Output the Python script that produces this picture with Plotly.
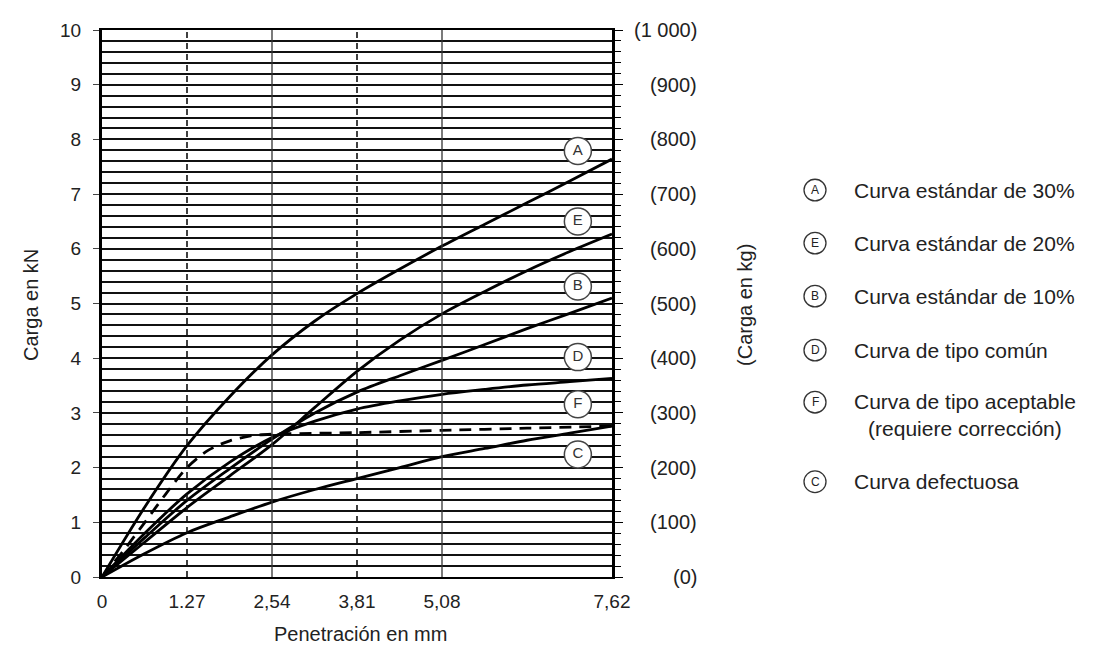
import plotly.graph_objects as go

# ---------------- data ----------------
pen_mm = [0, 0.64, 1.27, 1.91, 2.54, 3.18, 3.81, 4.45, 5.08, 5.72, 6.35, 6.99, 7.62]
curve_A = [0, 1.28, 2.40, 3.30, 4.06, 4.68, 5.18, 5.63, 6.05, 6.45, 6.84, 7.24, 7.64]
curve_E = [0, 0.64, 1.27, 1.85, 2.42, 3.10, 3.76, 4.33, 4.81, 5.22, 5.60, 5.95, 6.27]
curve_B = [0, 0.72, 1.40, 1.98, 2.52, 3.00, 3.38, 3.68, 3.96, 4.25, 4.54, 4.82, 5.10]
curve_D = [0, 0.80, 1.52, 2.10, 2.55, 2.85, 3.07, 3.22, 3.34, 3.43, 3.51, 3.57, 3.63]
curve_C = [0, 0.43, 0.81, 1.10, 1.37, 1.60, 1.80, 2.00, 2.20, 2.35, 2.50, 2.63, 2.76]
pen_F = [0, 0.32, 0.64, 0.96, 1.27, 1.59, 1.91, 2.22, 2.54, 3.81, 5.08, 6.35, 7.62]
curve_F = [0, 0.48, 1.00, 1.53, 2.00, 2.32, 2.49, 2.58, 2.61, 2.64, 2.68, 2.72, 2.76]

label_letters = ["A", "E", "B", "D", "F", "C"]
label_x = [7.11, 7.11, 7.11, 7.11, 7.11, 7.11]
label_y = [7.79, 6.50, 5.31, 4.02, 3.16, 2.24]

legend_letters = ["A", "E", "B", "D", "F", "C"]
legend_texts = ["Curva estándar de 30%", "Curva estándar de 20%", "Curva estándar de 10%",
                "Curva de tipo común", "Curva de tipo aceptable<br>(requiere corrección)",
                "Curva defectuosa"]

x_tickvals = [0, 1.27, 2.54, 3.81, 5.08, 7.62]
x_ticktext = ["0", "1.27", "2,54", "3,81", "5,08", "7,62"]
dashed_vlines = [1.27, 3.81]
solid_vlines = [2.54, 5.08]
kn_ticks = list(range(0, 11))
kg_tickvals = list(range(0, 1001, 100))
kg_ticktext = ["(0)", "(100)", "(200)", "(300)", "(400)", "(500)", "(600)", "(700)",
               "(800)", "(900)", "(1 000)"]

# ---------------- layout geometry (page px; figure sits 8px in from page corner) ----------------
OFF = 8
W, H = 1100, 640
L, R, T, B = 102 - OFF, 612 - OFF, 20 - OFF, 577 - OFF
PW, PH = R - L, B - T
FONT = "Liberation Sans, Arial, sans-serif"
TXT = "#222"

def px_x(px):
    return (px - OFF - L) / PW

def px_y(py):
    return (B - (py - OFF)) / PH

fig = go.Figure()

# vertical guide lines
for xv in solid_vlines:
    fig.add_shape(type="line", xref="x", yref="y", x0=xv, x1=xv, y0=0, y1=10,
                  line=dict(color="#333", width=1.3))
for xv in dashed_vlines:
    fig.add_shape(type="line", xref="x", yref="y", x0=xv, x1=xv, y0=0, y1=10,
                  line=dict(color="#111", width=1.6, dash="6px,5px"))

lw = 2.8
for yv in [curve_A, curve_E, curve_B, curve_D, curve_C]:
    fig.add_trace(go.Scatter(x=pen_mm, y=yv, mode="lines",
                             line=dict(color="#000", width=lw, shape="spline", smoothing=0.9),
                             showlegend=False, hoverinfo="skip"))
fig.add_trace(go.Scatter(x=pen_F, y=curve_F, mode="lines",
                         line=dict(color="#000", width=lw, dash="12px,8px", shape="spline", smoothing=0.8),
                         showlegend=False, hoverinfo="skip"))

# circled curve labels
fig.add_trace(go.Scatter(x=label_x, y=label_y, mode="markers+text", text=label_letters,
                         textposition="middle center",
                         textfont=dict(family=FONT, size=15, color="#333"),
                         marker=dict(size=27, color="white", line=dict(color="#444", width=1.5)),
                         showlegend=False, hoverinfo="skip", cliponaxis=False))

# dummy trace for secondary axis
fig.add_trace(go.Scatter(x=[0], y=[0], yaxis="y2", mode="markers", marker=dict(opacity=0),
                         showlegend=False, hoverinfo="skip"))

annotations = []
# right axis labels (right aligned)
for v, t in zip(kg_tickvals, kg_ticktext):
    annotations.append(dict(x=px_x(699), y=v, xref="paper", yref="y2", text=t, showarrow=False,
                            xanchor="right", yanchor="middle",
                            font=dict(family=FONT, size=20, color=TXT)))
# axis titles
annotations.append(dict(x=px_x(31), y=px_y(300), xref="paper", yref="paper", text="Carga en kN",
                        textangle=-90, showarrow=False, xanchor="center", yanchor="middle",
                        font=dict(family=FONT, size=20, color=TXT)))
annotations.append(dict(x=px_x(745), y=px_y(300), xref="paper", yref="paper", text="(Carga en kg)",
                        textangle=-90, showarrow=False, xanchor="center", yanchor="middle",
                        font=dict(family=FONT, size=20, color=TXT)))
annotations.append(dict(x=px_x(360), y=px_y(635), xref="paper", yref="paper", text="Penetración en mm",
                        showarrow=False, xanchor="center", yanchor="middle",
                        font=dict(family=FONT, size=20, color=TXT)))

# legend
legend_rows = [183, 237, 291, 346, 399, 480]
for letter, txt, yc in zip(legend_letters, legend_texts, legend_rows):
    cx, r = 815, 11
    fig.add_shape(type="circle", xref="paper", yref="paper",
                  x0=px_x(cx - r), x1=px_x(cx + r), y0=px_y(yc + r), y1=px_y(yc - r),
                  line=dict(color="#333", width=1.3), fillcolor="white")
    annotations.append(dict(x=px_x(cx), y=px_y(yc), xref="paper", yref="paper", text=letter,
                            showarrow=False, xanchor="center", yanchor="middle",
                            font=dict(family=FONT, size=12, color="#222")))
    if "<br>" in txt:
        annotations.append(dict(x=px_x(852), y=px_y(yc - 14), xref="paper", yref="paper", text=txt,
                                showarrow=False, xanchor="left", yanchor="top", align="center",
                                font=dict(family=FONT, size=21, color=TXT)))
    else:
        annotations.append(dict(x=px_x(852), y=px_y(yc), xref="paper", yref="paper", text=txt,
                                showarrow=False, xanchor="left", yanchor="middle",
                                font=dict(family=FONT, size=21, color=TXT)))

fig.update_layout(
    width=W, height=H,
    margin=dict(l=L, r=W - R, t=T, b=H - B, pad=0),
    paper_bgcolor="white", plot_bgcolor="white",
    showlegend=False,
    font=dict(family=FONT, size=19, color=TXT),
    xaxis=dict(range=[0, 7.62], tickvals=x_tickvals, ticktext=x_ticktext, ticks="",
               showgrid=False, zeroline=False, showline=True, linewidth=2, linecolor="#000",
               mirror=True, ticklabelstandoff=6, tickfont=dict(family=FONT, size=19, color=TXT)),
    yaxis=dict(range=[0, 10], tickvals=kn_ticks, ticks="outside", ticklen=6, tickwidth=1.2,
               tickcolor="#444", showgrid=True, gridcolor="#111", gridwidth=1.5, zeroline=False,
               showline=True, linewidth=3, linecolor="#000", ticklabelstandoff=8,
               tickfont=dict(family=FONT, size=19, color=TXT),
               minor=dict(dtick=0.2, showgrid=True, gridcolor="#111", gridwidth=1.5, ticks="")),
    yaxis2=dict(range=[0, 1000], overlaying="y", side="right", tickvals=kg_tickvals,
                showticklabels=False, ticks="outside", ticklen=8, tickwidth=1.3, tickcolor="#000",
                showgrid=False, zeroline=False, showline=True, linewidth=3, linecolor="#000",
                minor=dict(dtick=20, ticks="outside", ticklen=6, tickwidth=1.2, tickcolor="#000",
                           showgrid=False)),
    annotations=annotations,
)

fig.write_html("out.html")
